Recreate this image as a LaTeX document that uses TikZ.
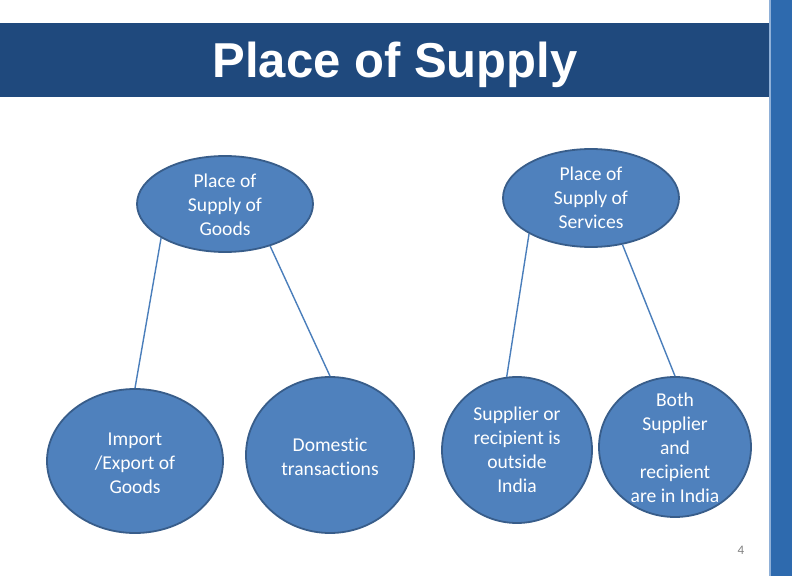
\documentclass[tikz,border=0pt]{standalone}
\usepackage{fontspec}
\setmainfont{Carlito}[Ligatures={NoCommon}]
\newfontfamily\titlefont{Liberation Sans}
\usetikzlibrary{shapes.geometric}
\definecolor{titleblue}{HTML}{1F497D}
\definecolor{barblue}{HTML}{2E6AAE}
\definecolor{baredge}{HTML}{8FB0D8}
\definecolor{nodefill}{HTML}{4F81BD}
\definecolor{nodeline}{HTML}{385D8A}
\definecolor{linkblue}{HTML}{4A7EBB}
\begin{document}
\begin{tikzpicture}[x=1bp,y=-1bp,
  bubble/.style={ellipse,draw=nodeline,fill=nodefill,line width=1.8bp,inner sep=0pt},
  bubbletext/.style={text=white,align=center,inner sep=0pt,font=\fontsize{19.6bp}{24bp}\selectfont},
  link/.style={draw=linkblue,line width=1.4bp}]
\useasboundingbox[fill=white] (0,0) rectangle (792,576);
% title bar and right bar
\fill[titleblue] (0,23) rectangle (769,97);
\fill[barblue] (769,0) rectangle (792,576);
\fill[baredge] (769,0) rectangle (771,576);
\node[text=white,font=\titlefont\bfseries\fontsize{49bp}{56bp}\selectfont,anchor=base,inner sep=0pt] (title) at (395,78) {Place of Supply};
% ellipses
\node[bubble,minimum width=176bp,minimum height=96bp] (goods) at (225,204) {};
\node[bubble,minimum width=176bp,minimum height=98bp] (services) at (591,198) {};
\node[bubble,minimum width=176bp,minimum height=144bp] (import) at (135,461) {};
\node[bubble,minimum width=168bp,minimum height=156bp] (domestic) at (330,455) {};
\node[bubble,minimum width=150bp,minimum height=146bp] (outside) at (517,450) {};
\node[bubble,minimum width=152bp,minimum height=140bp] (india) at (675,447) {};
% texts
\node[bubbletext] (goodsT) at (225,205) {Place of\\Supply of\\Goods};
\node[bubbletext] (servicesT) at (591,198) {Place of\\Supply of\\Services};
\node[bubbletext] (importT) at (135,463) {Import\\/Export of\\Goods};
\node[bubbletext] (domesticT) at (330,457) {Domestic\\transactions};
\node[bubbletext] (outsideT) at (517,450) {Supplier or\\recipient is\\outside\\India};
\node[bubbletext] (indiaT) at (675,448) {Both\\Supplier\\and\\recipient\\are in India};
% connectors
\draw[link] (goods.208) -- (import.north);
\draw[link] (goods.317) -- (domestic.north);
\draw[link] (services.210) -- (outside.98);
\draw[link] (services.304) -- (india.north);
% page number
\node[text=gray,font=\fontsize{13bp}{15bp}\selectfont,inner sep=0pt] (page) at (741,550) {4};
\end{tikzpicture}
\end{document}
